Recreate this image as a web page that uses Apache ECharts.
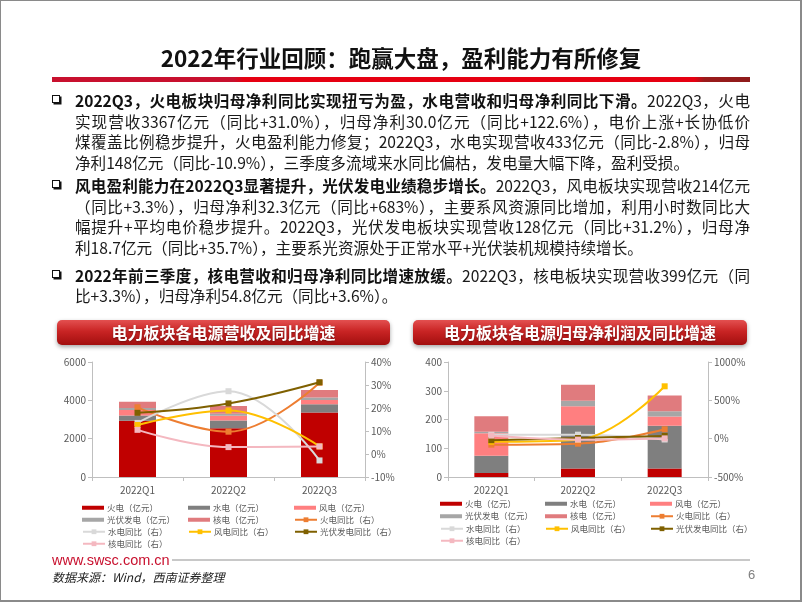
<!DOCTYPE html>
<html lang="zh-CN"><head><meta charset="utf-8">
<script src="https://cdn.jsdelivr.net/npm/echarts/dist/echarts.min.js"></script>
<style>
html,body{margin:0;padding:0;background:#fff;}
#page{position:relative;width:802px;height:602px;overflow:hidden;background:#fff;font-family:"Noto Sans CJK SC","Noto Sans",sans-serif;}
#chart{position:absolute;left:0;top:0;width:802px;height:602px;}
.frame{position:absolute;left:0;top:0;width:799px;height:599px;border:1px solid #8a8a8a;border-right:2px solid #8a8a8a;border-bottom:2px solid #8a8a8a;}
.title{position:absolute;left:0;width:802px;top:42px;line-height:30px;text-align:center;font-weight:700;font-size:22.5px;color:#111;white-space:nowrap;}
.redbar{position:absolute;left:52px;top:77px;width:698px;height:5px;background:linear-gradient(to right,#C8102E 0%,#C8102E 26%,#E60012 27.5%,#E60012 92%,#9B1B1B 93.5%,#8E1B1B 100%);}
.ln{position:absolute;left:75px;width:675px;font-size:15.6px;line-height:20px;height:20px;white-space:nowrap;text-align:justify;text-align-last:justify;color:#1a1a1a;}
.ln.last{text-align-last:left;}
.ln b{font-weight:700;color:#111;}
.bul{position:absolute;left:52px;width:6px;height:6px;border:1.5px solid #111;box-shadow:1.5px 1.5px 0 #111;}
.www{position:absolute;left:52px;top:550px;font-family:"Liberation Sans",Arial,sans-serif;font-size:14.5px;color:#C8102E;line-height:20px;}
.sep{position:absolute;left:172px;top:559px;width:578px;height:2px;background:#C8C8C8;}
.src{position:absolute;left:52px;top:568px;font-size:12px;font-style:italic;color:#222;line-height:18px;}
.pg{position:absolute;left:748px;top:566px;font-size:13px;color:#7f7f7f;font-family:"Liberation Sans",Arial,sans-serif;line-height:18px;}
</style></head>
<body>
<div id="page">
  <div id="chart"></div>
  <div class="frame"></div>
  <div class="title">2022年行业回顾：跑赢大盘，盈利能力有所修复</div>
  <div class="redbar"></div>

  <div class="bul" style="top:95px"></div>
  <div class="ln" style="top:90px"><b>2022Q3，火电板块归母净利同比实现扭亏为盈，水电营收和归母净利同比下滑。</b>2022Q3，火电</div>
  <div class="ln" style="top:110.5px">实现营收3367亿元（同比+31.0%），归母净利30.0亿元（同比+122.6%），电价上涨+长协低价</div>
  <div class="ln" style="top:131px">煤覆盖比例稳步提升，火电盈利能力修复；2022Q3，水电实现营收433亿元（同比-2.8%），归母</div>
  <div class="ln last" style="top:151.5px">净利148亿元（同比-10.9%），三季度多流域来水同比偏枯，发电量大幅下降，盈利受损。</div>

  <div class="bul" style="top:180px"></div>
  <div class="ln" style="top:175px"><b>风电盈利能力在2022Q3显著提升，光伏发电业绩稳步增长。</b>2022Q3，风电板块实现营收214亿元</div>
  <div class="ln" style="top:195.5px">（同比+3.3%），归母净利32.3亿元（同比+683%），主要系风资源同比增加，利用小时数同比大</div>
  <div class="ln" style="top:216px">幅提升+平均电价稳步提升。2022Q3，光伏发电板块实现营收128亿元（同比+31.2%），归母净</div>
  <div class="ln last" style="top:236.5px">利18.7亿元（同比+35.7%），主要系光资源处于正常水平+光伏装机规模持续增长。</div>

  <div class="bul" style="top:270px"></div>
  <div class="ln" style="top:265px"><b>2022年前三季度，核电营收和归母净利同比增速放缓。</b>2022Q3，核电板块实现营收399亿元（同</div>
  <div class="ln last" style="top:285px">比+3.3%），归母净利54.8亿元（同比+3.6%）。</div>

  <div class="www">www.swsc.com.cn</div>
  <div class="sep"></div>
  <div class="src">数据来源：Wind，西南证券整理</div>
  <div class="pg">6</div>
</div>
<script>
const categories = ['2022Q1', '2022Q2', '2022Q3'];

// Revenue (亿元)
const revThermal = [2930, 2550, 3367];
const revHydro = [280, 400, 433];
const revWind = [290, 240, 214];
const revSolar = [100, 110, 128];
const revNuclear = [330, 410, 399];
// Revenue YoY (%)
const revYoyThermal = [20.3, 9.7, 31.0];
const revYoyHydro = [13.5, 27.3, -2.8];
const revYoyWind = [12.6, 18.9, 3.3];
const revYoySolar = [17.9, 22.0, 31.2];
const revYoyNuclear = [10.5, 3.0, 3.3];

// Net profit (亿元)
const profThermal = [14, 30, 30.0];
const profHydro = [60, 150, 148];
const profWind = [78, 66, 32.3];
const profSolar = [5, 19, 18.7];
const profNuclear = [54, 56, 54.8];
// Net profit YoY (%)
const profYoyThermal = [-78, -65, 122.6];
const profYoyHydro = [50, 52, -10.9];
const profYoyWind = [-40, -13, 683];
const profYoySolar = [-20, 9, 35.7];
const profYoyNuclear = [40, -13, 3.6];

const barNames = ['火电（亿元）', '水电（亿元）', '风电（亿元）', '光伏发电（亿元）', '核电（亿元）'];
const lineNames = ['火电同比（右）', '水电同比（右）', '风电同比（右）', '光伏发电同比（右）', '核电同比（右）'];
const chartTitles = ['电力板块各电源营收及同比增速', '电力板块各电源归母净利润及同比增速'];

const barColors = ['#C00000', '#7F7F7F', '#FF7F80', '#A6A6A6', '#E07B7E'];
const lineColors = ['#ED7D31', '#D9D9D9', '#FFC000', '#7F6000', '#F4B8C0'];

const chart = echarts.init(document.getElementById('chart'), null, {renderer: 'canvas'});
const FONT = '"Noto Sans CJK SC", "Noto Sans", sans-serif';
const axisColor = '#BFBFBF';
const labelColor = '#595959';

function valueAxis(gridIndex, pos, min, max, interval, pct) {
  return {
    type: 'value', gridIndex: gridIndex, position: pos, min: min, max: max, interval: interval,
    axisLine: {show: true, lineStyle: {color: axisColor}},
    axisTick: {show: true, length: 4, lineStyle: {color: axisColor}},
    splitLine: {show: false},
    axisLabel: {color: labelColor, fontSize: 10, margin: 6, fontFamily: FONT,
      formatter: function (v) { return String(v) + (pct ? '%' : ''); }}
  };
}
function catAxis(gridIndex) {
  return {
    type: 'category', gridIndex: gridIndex, data: categories,
    axisLine: {lineStyle: {color: axisColor}},
    axisTick: {show: true, length: 4, lineStyle: {color: axisColor}},
    axisLabel: {color: labelColor, fontSize: 10, margin: 8, fontFamily: FONT}
  };
}

function buildSeries(gi, bars, lines, barW) {
  const out = [];
  bars.forEach((d, i) => out.push({
    name: barNames[i], type: 'bar', stack: 'b' + gi, xAxisIndex: gi, yAxisIndex: gi * 2,
    data: d, barWidth: barW, itemStyle: {color: barColors[i]}, z: 2
  }));
  lines.forEach((d, i) => out.push({
    name: lineNames[i], type: 'line', xAxisIndex: gi, yAxisIndex: gi * 2 + 1,
    data: d, smooth: 0.4, symbol: 'rect', symbolSize: 6,
    lineStyle: {color: lineColors[i], width: 2}, itemStyle: {color: lineColors[i]}, z: 5 + i
  }));
  return out;
}

function buildLegends(cols, rows) {
  const all = barNames.concat(lineNames);
  return all.map((n, i) => {
    const isBar = i < barNames.length;
    return {
      data: [isBar ? {name: n, icon: 'rect'} : {name: n}],
      left: cols[i % 3], top: rows[Math.floor(i / 3)] - 5,
      padding: 0, itemGap: 0, itemWidth: 22, itemHeight: isBar ? 4 : 6,
      selectedMode: false,
      textStyle: {fontSize: 8.5, color: labelColor, fontFamily: FONT, padding: [0, 0, 0, -2]}
    };
  });
}

function banner(x, y, w, h, text) {
  return [{
    type: 'rect', shape: {x: x, y: y, width: w, height: h, r: 5},
    style: {
      fill: new echarts.graphic.LinearGradient(0, 0, 0, 1, [
        {offset: 0, color: '#E35050'}, {offset: 0.45, color: '#C92424'}, {offset: 1, color: '#A20E0E'}
      ]),
      shadowBlur: 4, shadowOffsetY: 2, shadowColor: 'rgba(0,0,0,0.35)'
    }, z: 10
  }, {
    type: 'text', x: x + w / 2, y: y + h / 2 + 0.5, z: 11,
    style: {text: text, fill: '#fff', font: 'bold 16px ' + FONT, align: 'center', verticalAlign: 'middle',
      textShadowColor: 'rgba(0,0,0,0.35)', textShadowBlur: 2, textShadowOffsetY: 1}
  }];
}

const option = {
  animation: false,
  backgroundColor: 'transparent',
  grid: [
    {left: 92, top: 362, width: 273, height: 115},
    {left: 448, top: 362, width: 260, height: 115}
  ],
  xAxis: [catAxis(0), catAxis(1)],
  yAxis: [
    valueAxis(0, 'left', 0, 6000, 2000, false),
    valueAxis(0, 'right', -10, 40, 10, true),
    valueAxis(1, 'left', 0, 400, 100, false),
    valueAxis(1, 'right', -500, 1000, 500, true)
  ],
  legend: buildLegends([82, 188, 294], [508.5, 520.5, 532.5, 544.5])
    .concat(buildLegends([440, 545, 650], [504.5, 517, 529.5, 541.5])),
  graphic: banner(57, 320, 333, 25, chartTitles[0]).concat(banner(413, 320, 334, 25, chartTitles[1])),
  series: buildSeries(0,
      [revThermal, revHydro, revWind, revSolar, revNuclear],
      [revYoyThermal, revYoyHydro, revYoyWind, revYoySolar, revYoyNuclear], 37)
    .concat(buildSeries(1,
      [profThermal, profHydro, profWind, profSolar, profNuclear],
      [profYoyThermal, profYoyHydro, profYoyWind, profYoySolar, profYoyNuclear], 34))
};
chart.setOption(option);
</script>
</body></html>
